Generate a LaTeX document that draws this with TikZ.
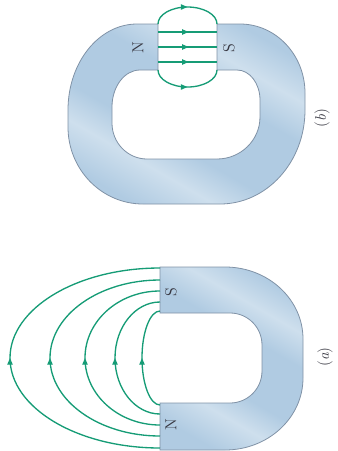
\documentclass[tikz,border=0pt]{standalone}
\usetikzlibrary{arrows.meta,decorations.markings}
\definecolor{ironA}{RGB}{176,203,226}
\definecolor{ironB}{RGB}{206,223,237}
\definecolor{ironEdge}{RGB}{128,146,166}
\definecolor{flux}{RGB}{22,156,118}
\definecolor{inkgray}{RGB}{55,55,65}
\pgfdeclarehorizontalshading{ironsheen}{100bp}{%
  color(0bp)=(ironA); color(24bp)=(ironA); color(34bp)=(ironB); color(42bp)=(ironA);
  color(58bp)=(ironA); color(67bp)=(ironB); color(76bp)=(ironA); color(100bp)=(ironA)}
\begin{document}
\begin{tikzpicture}[x=0.75pt,y=-0.75pt,
  iron/.style={draw=ironEdge,line width=0.6pt,shading=ironsheen,shading angle=60},
  fieldline/.style={draw=flux,line width=1pt,
    decoration={markings,mark=at position 0.5 with {\arrow{Triangle[length=5pt,width=4pt]}}},
    postaction={decorate}},
  flatline/.style={draw=flux,line width=1pt,
    decoration={markings,mark=at position 0.52 with {\arrow{Triangle[length=5pt,width=4pt]}}},
    postaction={decorate}},
  pole/.style={text=inkgray,font=\fontsize{12}{14}\selectfont,rotate=90,inner sep=0pt},
  caption/.style={text=inkgray,font=\fontsize{11.5}{14}\selectfont,rotate=90,inner sep=0pt}]
\useasboundingbox (0,0) rectangle (337,451);

% ---------- (a) horseshoe magnet ----------
\path[iron] (160,267) -- (225,267)
  .. controls (268.1,267) and (303,299.2) .. (303,339) -- (303,378)
  .. controls (303,417.8) and (268.1,450) .. (225,450) -- (160,450) -- (160,403)
  -- (230,403) .. controls (247.7,403) and (262,388.7) .. (262,371) -- (262,345)
  .. controls (262,327.3) and (247.7,313) .. (230,313) -- (160,313) -- cycle;

% field lines leaving N and returning to S
\foreach \rx/\h in {150/90,110/78,75/67,45/56,18/47}{
  \path[fieldline] (160,358+\h)
    .. controls (160-0.5523*\rx,358+\h) and (160-\rx,358+0.5523*\h) .. (160-\rx,358)
    .. controls (160-\rx,358-0.5523*\h) and (160-0.5523*\rx,358-\h) .. (160,358-\h);
}

\node[pole] (Na) at (171,425) {N};
\node[pole] (Sa) at (171,292) {S};
\node[caption] (capa) at (325,357) {(\textit{a})};

% ---------- (b) ring magnet with a narrow gap ----------
\path[iron] (158,24) -- (137,24)
  .. controls (98.9,24) and (68,62.5) .. (68,110) -- (68,127)
  .. controls (68,169.5) and (101.6,204) .. (143,204) -- (220,204)
  .. controls (266.9,204) and (305,161.9) .. (305,110) -- (305,93)
  .. controls (305,54.9) and (275.9,24) .. (240,24) -- (217,24) -- (217,70)
  -- (237,70) .. controls (249.7,70) and (260,83.4) .. (260,100) -- (260,117)
  .. controls (260,140.2) and (240.7,159) .. (217,159) -- (147,159)
  .. controls (127.7,159) and (112,142.9) .. (112,123) -- (112,107)
  .. controls (112,86.6) and (124.5,70) .. (140,70) -- (158,70) -- cycle;

% field across the gap
\foreach \yy in {32,47,62}{
  \path[flatline] (158,\yy) -- (217,\yy);
}
\path[fieldline] (158,24)
  .. controls (158,14.6) and (171.2,7) .. (187.5,7)
  .. controls (203.8,7) and (217,14.6) .. (217,24);
\path[fieldline] (158,70)
  .. controls (158,79.4) and (171.2,87) .. (187.5,87)
  .. controls (203.8,87) and (217,79.4) .. (217,70);

\node[pole] (Nb) at (138,48) {N};
\node[pole] (Sb) at (229,48) {S};
\node[caption] (capb) at (322,118) {(\textit{b})};
\end{tikzpicture}
\end{document}
